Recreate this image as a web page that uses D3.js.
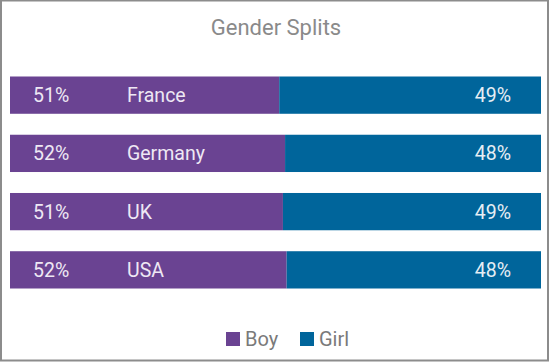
<!DOCTYPE html>
<html>
<head>
<meta charset="utf-8">
<script src="https://cdn.jsdelivr.net/npm/d3@7"></script>
<style>
  html, body { margin: 0; padding: 0; background: #fff; }
  #chart { width: 550px; height: 363px; }
  text { font-family: Roboto, "Noto Sans", sans-serif; }
</style>
</head>
<body>
<div id="chart"></div>
<script>
const countries = ["France", "Germany", "UK", "USA"];
const boyShare = [50.7, 51.8, 51.4, 52.1];
const girlShare = [49.3, 48.2, 48.6, 47.9];
const seriesNames = ["Boy", "Girl"];
const colors = ["#6a4392", "#00659b"];

const width = 550, height = 363;

const svg = d3.select("#chart")
    .append("svg")
    .attr("width", width)
    .attr("height", height);

// outer frame
svg.append("rect")
    .attr("x", 1)
    .attr("y", 0.5)
    .attr("width", width - 3)
    .attr("height", height - 3)
    .attr("fill", "#fff")
    .attr("stroke", "#8c8c8c")
    .attr("stroke-width", 2);

svg.append("text")
    .attr("x", 276)
    .attr("y", 35)
    .attr("text-anchor", "middle")
    .attr("fill", "#8a8a8a")
    .attr("font-size", "22px")
    .text("Gender Splits");

const x = d3.scaleLinear().domain([0, 100]).range([10, 541]);
const y = d3.scaleBand().domain(countries).range([76.5, 288.5]).paddingInner(0.36);

const rows = countries.map((c, i) => ({ country: c, boy: boyShare[i], girl: girlShare[i] }));

const row = svg.selectAll(".row")
    .data(rows)
    .enter().append("g")
    .attr("class", "row");

row.append("rect")
    .attr("x", x(0))
    .attr("y", d => y(d.country))
    .attr("width", d => x(d.boy) - x(0))
    .attr("height", y.bandwidth())
    .attr("fill", colors[0]);

row.append("rect")
    .attr("x", d => x(d.boy))
    .attr("y", d => y(d.country))
    .attr("width", d => x(d.boy + d.girl) - x(d.boy))
    .attr("height", y.bandwidth())
    .attr("fill", colors[1]);

const mid = d => y(d.country) + y.bandwidth() / 2 + 7;

row.append("text")
    .attr("x", x(0) + 23)
    .attr("y", mid)
    .attr("fill", "#eee8f4")
    .attr("font-size", "19.5px")
    .text(d => Math.round(d.boy) + "%");

row.append("text")
    .attr("x", x(0) + 117)
    .attr("y", mid)
    .attr("fill", "#eee8f4")
    .attr("font-size", "19.5px")
    .text(d => d.country);

row.append("text")
    .attr("x", x(100) - 30)
    .attr("y", mid)
    .attr("text-anchor", "end")
    .attr("fill", "#e6eef4")
    .attr("font-size", "19.5px")
    .text(d => Math.round(d.girl) + "%");

// legend
const legendX = [226, 300];
const legend = svg.selectAll(".legend")
    .data(seriesNames)
    .enter().append("g")
    .attr("class", "legend")
    .attr("transform", (d, i) => `translate(${legendX[i]},332)`);

legend.append("rect")
    .attr("width", 14)
    .attr("height", 14)
    .attr("fill", (d, i) => colors[i]);

legend.append("text")
    .attr("x", 19)
    .attr("y", 14)
    .attr("fill", "#7a7a7a")
    .attr("font-size", "20px")
    .text(d => d);
</script>
</body>
</html>
